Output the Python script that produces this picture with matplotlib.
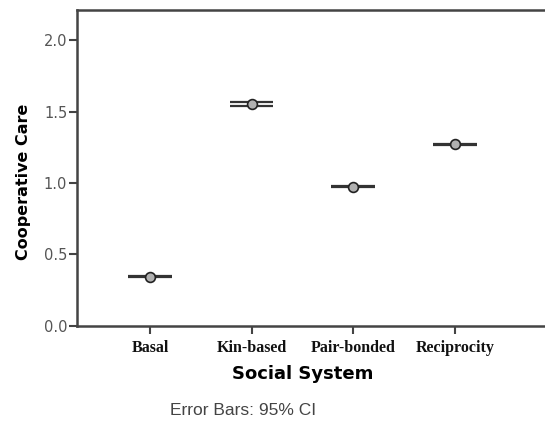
import matplotlib
matplotlib.use("Agg")
import matplotlib.pyplot as plt

# data
groups = ["Basal", "Kin-based", "Pair-bonded", "Reciprocity"]
means = [0.345, 1.55, 0.975, 1.27]
ci_half = [0.004, 0.014, 0.004, 0.004]
yticks = [0.0, 0.5, 1.0, 1.5, 2.0]

fig = plt.figure(figsize=(5.45, 4.25), dpi=100)
ax = fig.add_axes([0.1413, 0.233, 0.87, 0.7435])

x = list(range(len(groups)))
for xi, m, h in zip(x, means, ci_half):
    for yy in (m - h, m + h):
        ax.plot([xi - 0.215, xi + 0.215], [yy, yy], color="#333333", lw=1.6, solid_capstyle="butt")
ax.scatter(x, means, s=50, facecolor="#b0b0b0", edgecolor="#222222", linewidth=1.2, zorder=3)

ax.set_xlim(-0.72, 3.95)
ax.set_ylim(0, 2.21)
ax.set_yticks(yticks)
ax.set_yticklabels([f"{v:.1f}" for v in yticks], fontsize=10.5, color="#555555", family="DejaVu Sans")
ax.set_xticks(x)
ax.set_xticklabels(groups, fontsize=11.5, family="Liberation Serif", fontweight="bold", color="#111111")
ax.tick_params(axis="y", length=6, width=1.5, color="#444444", pad=1)
ax.tick_params(axis="x", length=6, width=1.5, color="#444444", pad=4)
for s in ax.spines.values():
    s.set_color("#444444")
    s.set_linewidth(1.8)

ax.set_ylabel("Cooperative Care", fontsize=11.5, fontweight="bold")
ax.yaxis.set_label_coords(-0.097, 0.455)
ax.set_xlabel("Social System", fontsize=13, fontweight="bold")
ax.xaxis.set_label_coords(0.477, -0.125)
fig.text(0.446, 0.033, "Error Bars: 95% CI", fontsize=12.5, color="#444444",
         family="Liberation Sans", ha="center", va="center")

fig.savefig("out.png", dpi=100)
plt.close(fig)
